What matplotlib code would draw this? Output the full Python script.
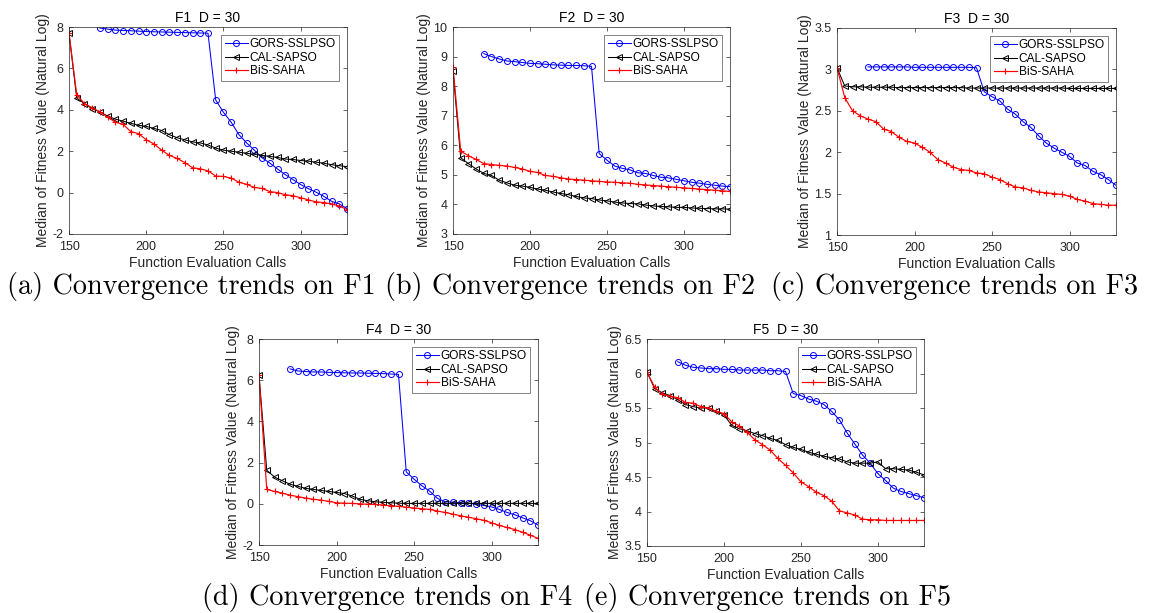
import numpy as np
import matplotlib
matplotlib.use("Agg")
import matplotlib.pyplot as plt

x_all = list(range(150, 335, 5))
x_gors = list(range(170, 335, 5))

f1_gors = [7.95, 7.9, 7.85, 7.83, 7.82, 7.8, 7.78, 7.77, 7.76, 7.75, 7.74, 7.73, 7.72, 7.71, 7.7,
           4.47, 3.88, 3.4, 2.8, 2.4, 2.05, 1.68, 1.43, 1.14, 0.87, 0.63, 0.39, 0.19, 0.02, -0.18, -0.42, -0.55, -0.77]
f1_cal = [7.7, 4.57, 4.3, 4.05, 3.9, 3.7, 3.55, 3.45, 3.35, 3.25, 3.2, 3.1, 3.0, 2.8, 2.65, 2.55, 2.45, 2.4, 2.3,
          2.15, 2.05, 2.0, 1.95, 1.9, 1.85, 1.8, 1.75, 1.7, 1.62, 1.6, 1.55, 1.52, 1.47, 1.42, 1.35, 1.3, 1.25]
f1_bis = [7.7, 4.73, 4.3, 4.1, 3.9, 3.65, 3.4, 3.3, 2.95, 2.85, 2.55, 2.35, 2.05, 1.8, 1.65, 1.45, 1.2, 1.15, 1.05,
          0.8, 0.78, 0.7, 0.5, 0.4, 0.25, 0.2, 0.05, 0.0, -0.1, -0.15, -0.25, -0.35, -0.45, -0.48, -0.55, -0.65, -0.82]

f2_gors = [9.1, 9.0, 8.92, 8.85, 8.83, 8.8, 8.77, 8.76, 8.74, 8.72, 8.71, 8.7, 8.7, 8.69, 8.67,
           5.72, 5.5, 5.3, 5.22, 5.17, 5.07, 5.05, 4.98, 4.92, 4.9, 4.85, 4.8, 4.75, 4.72, 4.68, 4.65, 4.62, 4.6]
f2_cal = [8.5, 5.58, 5.38, 5.2, 5.05, 4.98, 4.82, 4.73, 4.65, 4.62, 4.58, 4.52, 4.48, 4.42, 4.37, 4.33, 4.27, 4.22, 4.2,
          4.15, 4.12, 4.08, 4.05, 4.03, 4.02, 3.98, 3.95, 3.93, 3.92, 3.9, 3.9, 3.88, 3.87, 3.86, 3.85, 3.85, 3.84]
f2_bis = [8.65, 5.8, 5.65, 5.52, 5.38, 5.35, 5.32, 5.3, 5.25, 5.2, 5.12, 5.08, 4.98, 4.95, 4.9, 4.86, 4.84, 4.82, 4.8,
          4.78, 4.76, 4.75, 4.73, 4.72, 4.68, 4.66, 4.64, 4.62, 4.6, 4.58, 4.56, 4.54, 4.52, 4.5, 4.48, 4.46, 4.44]

f3_gors = [3.03, 3.03, 3.03, 3.03, 3.03, 3.03, 3.025, 3.025, 3.025, 3.025, 3.025, 3.025, 3.025, 3.025, 3.02,
           2.73, 2.67, 2.62, 2.52, 2.46, 2.37, 2.3, 2.2, 2.11, 2.05, 2.0, 1.95, 1.87, 1.84, 1.77, 1.73, 1.67, 1.6]
f3_cal = [3.02, 2.8, 2.79, 2.79, 2.785, 2.785, 2.785, 2.785, 2.78, 2.78, 2.78, 2.78, 2.78, 2.78, 2.78, 2.78, 2.78, 2.775, 2.775,
          2.775, 2.775, 2.775, 2.775, 2.775, 2.775, 2.775, 2.775, 2.775, 2.775, 2.775, 2.77, 2.77, 2.77, 2.77, 2.77, 2.77, 2.77]
f3_bis = [3.02, 2.66, 2.5, 2.44, 2.4, 2.37, 2.28, 2.25, 2.18, 2.13, 2.11, 2.06, 2.0, 1.91, 1.87, 1.82, 1.79, 1.78, 1.75,
          1.74, 1.7, 1.67, 1.62, 1.58, 1.57, 1.54, 1.52, 1.51, 1.5, 1.49, 1.47, 1.43, 1.41, 1.38, 1.37, 1.36, 1.36]

f4_gors = [6.55, 6.45, 6.42, 6.4, 6.4, 6.38, 6.37, 6.36, 6.35, 6.35, 6.34, 6.33, 6.32, 6.3, 6.28,
           1.55, 1.2, 0.88, 0.62, 0.27, 0.1, 0.08, 0.05, 0.03, -0.02, -0.08, -0.15, -0.27, -0.42, -0.53, -0.68, -0.82, -1.03]
f4_cal = [6.25, 1.63, 1.3, 1.12, 0.95, 0.85, 0.75, 0.7, 0.65, 0.6, 0.55, 0.5, 0.38, 0.22, 0.15, 0.1, 0.07, 0.05, 0.03,
          0.02, 0.02, 0.02, 0.02, 0.02, 0.02, 0.02, 0.02, 0.02, 0.02, 0.02, 0.02, 0.02, 0.02, 0.02, 0.02, 0.02, 0.02]
f4_bis = [6.25, 0.7, 0.6, 0.52, 0.42, 0.35, 0.28, 0.22, 0.18, 0.12, 0.05, 0.03, 0.02, 0.0, -0.02, -0.03, -0.06, -0.1, -0.12,
          -0.17, -0.2, -0.24, -0.27, -0.35, -0.42, -0.5, -0.58, -0.65, -0.72, -0.8, -0.92, -1.05, -1.15, -1.25, -1.38, -1.52, -1.68]

f5_gors = [6.17, 6.12, 6.09, 6.08, 6.07, 6.07, 6.06, 6.06, 6.05, 6.05, 6.05, 6.05, 6.04, 6.04, 6.03,
           5.71, 5.68, 5.63, 5.6, 5.55, 5.45, 5.33, 5.14, 4.98, 4.82, 4.7, 4.55, 4.45, 4.34, 4.29, 4.26, 4.23, 4.2]
f5_cal = [6.02, 5.78, 5.72, 5.68, 5.62, 5.55, 5.52, 5.5, 5.5, 5.45, 5.4, 5.25, 5.2, 5.17, 5.13, 5.1, 5.06, 5.03, 4.97,
          4.93, 4.9, 4.86, 4.83, 4.8, 4.78, 4.76, 4.72, 4.7, 4.7, 4.7, 4.72, 4.62, 4.62, 4.61, 4.6, 4.57, 4.53]
f5_bis = [6.02, 5.8, 5.7, 5.67, 5.65, 5.58, 5.57, 5.52, 5.5, 5.45, 5.42, 5.3, 5.24, 5.15, 5.04, 4.97, 4.89, 4.77, 4.67,
          4.56, 4.43, 4.36, 4.28, 4.23, 4.15, 4.01, 3.98, 3.95, 3.89, 3.88, 3.88, 3.87, 3.87, 3.87, 3.87, 3.87, 3.87]

titles = ["F1  D = 30", "F2  D = 30", "F3  D = 30", "F4  D = 30", "F5  D = 30"]
captions = ["(a) Convergence trends on F1", "(b) Convergence trends on F2", "(c) Convergence trends on F3",
            "(d) Convergence trends on F4", "(e) Convergence trends on F5"]
ylims = [(-2, 8), (3, 10), (1, 3.5), (-2, 8), (3.5, 6.5)]
yticks = [[-2, 0, 2, 4, 6, 8], [3, 4, 5, 6, 7, 8, 9, 10], [1, 1.5, 2, 2.5, 3, 3.5],
          [-2, 0, 2, 4, 6, 8], [3.5, 4, 4.5, 5, 5.5, 6, 6.5]]
ytlabels = [["-2", "0", "2", "4", "6", "8"], ["3", "4", "5", "6", "7", "8", "9", "10"],
            ["1", "1.5", "2", "2.5", "3", "3.5"], ["-2", "0", "2", "4", "6", "8"],
            ["3.5", "4", "4.5", "5", "5.5", "6", "6.5"]]
xticks = [150, 200, 250, 300]
series = [(f1_gors, f1_cal, f1_bis), (f2_gors, f2_cal, f2_bis), (f3_gors, f3_cal, f3_bis),
          (f4_gors, f4_cal, f4_bis), (f5_gors, f5_cal, f5_bis)]

W, H = 1150, 613
# axes boxes in pixels: left, top, right, bottom
boxes = [(69, 27, 347, 234), (453, 27, 730, 234), (837, 28, 1116, 235),
         (259, 339, 538, 545), (647, 339, 924, 546)]
cap_pos = [(191, 287), (570, 287), (955, 287), (387, 597), (767, 597)]

plt.rcParams['font.family'] = ['Liberation Sans', 'DejaVu Sans']
fig = plt.figure(figsize=(W / 100, H / 100), dpi=100)
dark = '#262626'

for i in range(5):
    l, t, r, b = boxes[i]
    ax = fig.add_axes([l / W, 1 - b / H, (r - l) / W, (b - t) / H])
    g, c, s = series[i]
    ax.plot(x_gors, g, color='#0000ff', marker='o', ms=4.3, mfc='none', mew=0.7, lw=0.75, label='GORS-SSLPSO')
    ax.plot(x_all, c, color='black', marker='<', ms=4.3, mfc='none', mew=0.7, lw=0.75, label='CAL-SAPSO')
    ax.plot(x_all, s, color='#ff0000', marker='+', ms=5, mew=0.8, lw=0.85, label='BiS-SAHA')
    ax.set_xlim(150, 330)
    ax.set_ylim(*ylims[i])
    ax.set_xticks(xticks)
    ax.set_yticks(yticks[i])
    ax.set_yticklabels(ytlabels[i])
    ax.tick_params(direction='in', top=True, right=True, labelsize=9, length=3, width=0.5,
                   colors=dark, labelcolor=dark)
    ax.tick_params(axis='x', pad=5)
    ax.tick_params(axis='y', pad=4)
    for sp in ax.spines.values():
        sp.set_linewidth(0.5)
        sp.set_color(dark)
    ax.set_title(titles[i], fontsize=10, pad=3.5, color='black')
    ax.set_xlabel('Function Evaluation Calls', fontsize=10, labelpad=2, color=dark)
    ax.set_ylabel('Median of Fitness Value (Natural Log)', fontsize=10, labelpad=1.5, color=dark)
    leg = ax.legend(loc='upper right', fontsize=8.6, frameon=True, fancybox=False, borderpad=0.3,
                    labelspacing=0.12, handlelength=1.9, handletextpad=0.15, borderaxespad=0.65)
    leg.get_frame().set_edgecolor(dark)
    leg.get_frame().set_linewidth(0.5)
    cx, cy = cap_pos[i]
    fig.text(cx / W, 1 - cy / H, captions[i], family='cmr10', fontsize=20.3, ha='center', va='center')

fig.savefig('out.png', dpi=100)
